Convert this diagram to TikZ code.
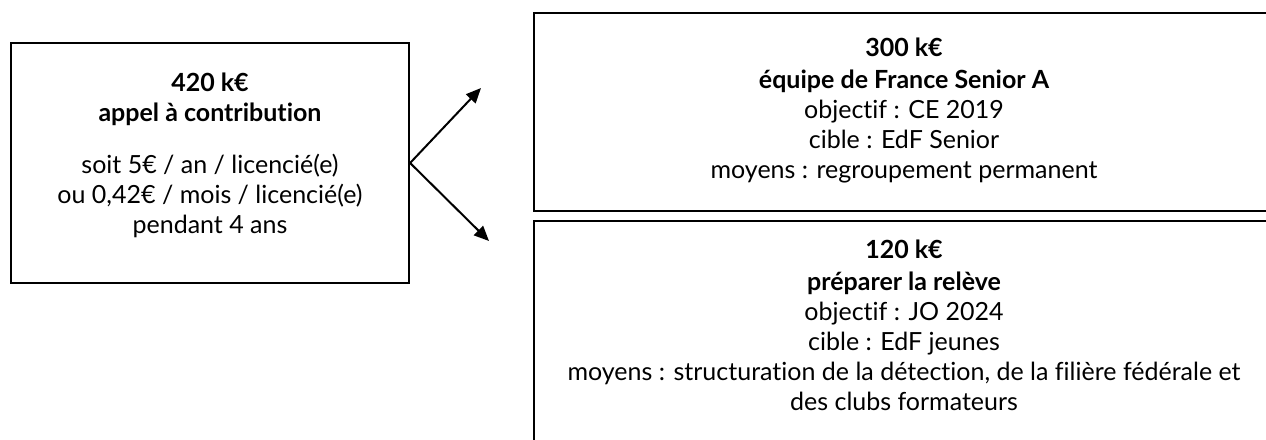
\documentclass[tikz,border=0pt]{standalone}
\usepackage{fontspec}
\setmainfont{Lato}[Ligatures=NoCommon]
\usetikzlibrary{arrows.meta}
\begin{document}
\begin{tikzpicture}[x=1pt,y=-1pt,
  box/.style={draw=black, line width=2.2pt, inner sep=0pt},
  ln/.style={anchor=base, inner sep=0pt, font=\fontsize{25}{30}\selectfont},
  bl/.style={anchor=base, inner sep=0pt, font=\fontsize{25}{30}\selectfont\bfseries},
  arr/.style={line width=2pt, -{Triangle[length=15pt,width=13pt]}}]
\useasboundingbox[fill=white] (0,0) rectangle (1266,439);
% boxes
\node[box, minimum width=398pt, minimum height=240pt] (src) at (210,163) {};
\node[box, minimum width=741pt, minimum height=198pt] (senior) at (904.5,112) {};
\node[box, minimum width=741pt, minimum height=229pt] (releve) at (904.5,335.5) {};
% left text
\node[bl] (s1) at (210,91) {420 k€};
\node[bl] (s2) at (210,121) {appel à contribution};
\node[ln] (s3) at (210,173) {soit 5€ / an / licencié(e)};
\node[ln] (s4) at (210,203) {ou 0,42€ / mois / licencié(e)};
\node[ln] (s5) at (210,233) {pendant 4 ans};
% top right text
\node[bl] (a1) at (904,56) {300 k€};
\node[bl] (a2) at (904,88) {équipe de France Senior A};
\node[ln] (a3) at (904,118) {objectif : CE 2019};
\node[ln] (a4) at (904,148) {cible : EdF Senior};
\node[ln] (a5) at (904,178) {moyens : regroupement permanent};
% lower right text
\node[bl] (b1) at (904,258) {120 k€};
\node[bl] (b2) at (904,290) {préparer la relève};
\node[ln] (b3) at (904,320) {objectif : JO 2024};
\node[ln] (b4) at (904,350) {cible : EdF jeunes};
\node[ln] (b5) at (904,380) {moyens : structuration de la détection, de la filière fédérale et};
\node[ln] (b6) at (904,410) {des clubs formateurs};
% arrows
\coordinate (t1) at (481,88);
\coordinate (t2) at (489,241);
\draw[arr] (src.east) -- (t1);
\draw[arr] (src.east) -- (t2);
\end{tikzpicture}
\end{document}
